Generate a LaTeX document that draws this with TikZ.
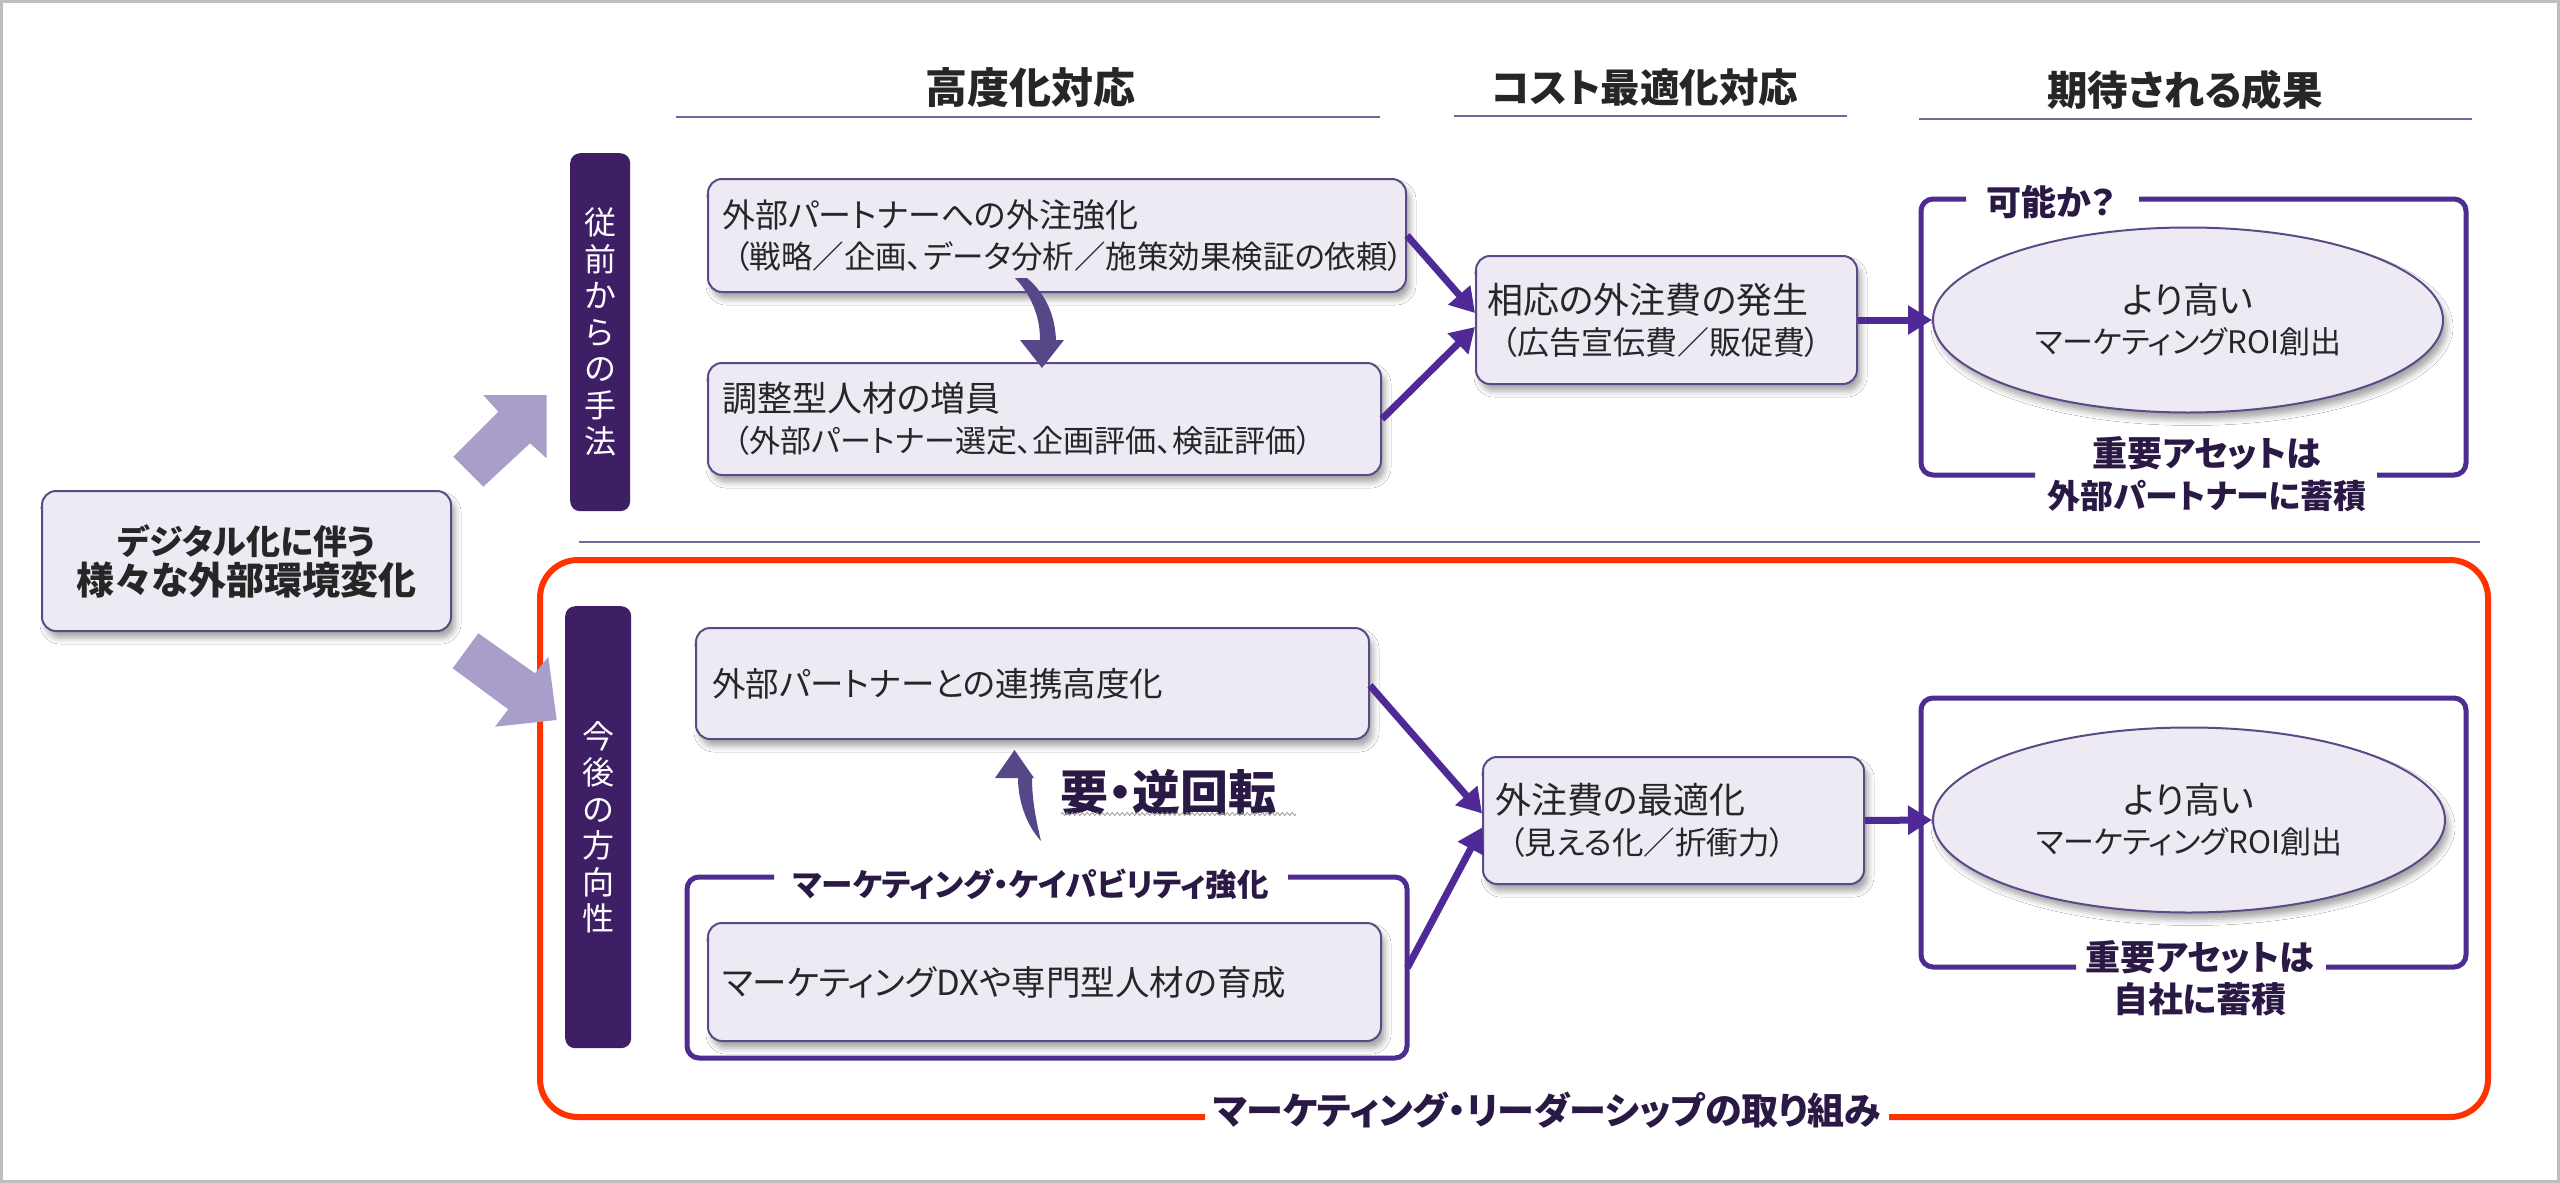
\documentclass[tikz,border=0pt]{standalone}
\usepackage{fontspec}
\setmainfont{Noto Sans CJK JP}[RawFeature=+palt]
\usetikzlibrary{arrows.meta,shapes.geometric,shadows.blur,decorations.pathmorphing}
\definecolor{boxfill}{HTML}{EDEAF4}
\definecolor{boxline}{HTML}{5B4A86}
\definecolor{vbarc}{HTML}{3E1F66}
\definecolor{bigarr}{HTML}{A99DCA}
\definecolor{framec}{HTML}{4E2C90}
\definecolor{arrc}{HTML}{4F2A96}
\definecolor{redc}{HTML}{FF3300}
\definecolor{ulinec}{HTML}{7566A0}
\definecolor{txt}{HTML}{262626}
\definecolor{lbl}{HTML}{2A1945}
\definecolor{curvc}{HTML}{564888}
\newcommand{\fs}[1]{\fontsize{#1}{41}\selectfont}
\begin{document}
\begin{tikzpicture}[x=1pt,y=-1pt,
  shadowed/.style={blur shadow={shadow xshift=4pt, shadow yshift=-7pt, shadow blur radius=6pt, shadow opacity=35}},
  box/.style={draw=boxline, line width=2pt, fill=boxfill, rounded corners=14pt, shadowed},
  tbox/.style={box, anchor=north west, align=left, inner xsep=14pt, inner ysep=0pt, text=txt, font=\fontsize{35}{41}\selectfont},
  vbar/.style={fill=vbarc, rounded corners=10pt, anchor=north west, align=center, inner sep=0pt, text=white, font=\fontsize{32}{36.5}\selectfont},
  hdr/.style={text=txt, font=\bfseries\fontsize{42}{48}\selectfont, inner sep=0pt},
  uline/.style={draw=ulinec, line width=2pt},
  oval/.style={ellipse, draw=boxline, line width=2pt, fill=boxfill, shadowed, align=center, text=txt, inner sep=0pt, font=\fontsize{36}{40}\selectfont},
  framepath/.style={draw=framec, line width=5pt, rounded corners=12pt},
  flbl/.style={text=lbl, align=center, inner sep=0pt, font=\bfseries\fontsize{35}{42}\selectfont},
  conn/.style={draw=arrc, line width=7pt, -{Triangle[length=24pt, width=28pt]}},
  ghost/.style={draw=none, inner sep=0pt, anchor=north west}
]
\useasboundingbox (0,0) rectangle (2560,1183);
\fill[white] (0,0) rectangle (2560,1183);
\draw[draw=black!25, line width=3pt] (1.5,1.5) rectangle (2558.5,1181.5);

% headers
\node[hdr] (h1) at (1030,88) {高度化対応};
\node[hdr, font=\bfseries\fontsize{39.5}{48}\selectfont] (h2) at (1645,88) {コスト最適化対応};
\node[hdr, font=\bfseries\fontsize{40.5}{48}\selectfont] (h3) at (2185,90) {期待される成果};
\draw[uline] (676,117) -- (1380,117);
\draw[uline] (1454,116) -- (1847,116);
\draw[uline] (1919,119) -- (2472,119);

% separator
\draw[uline] (579,541.5) -- (2480,541.5);

% red frame
\draw[draw=redc, line width=6pt, rounded corners=38pt] (1205,1117) -- (540,1117) -- (540,560) -- (2488,560) -- (2488,1117) -- (1889,1117);
\node[text=lbl, inner sep=0pt, font=\bfseries\fontsize{37}{48}\selectfont] (lead) at (1547,1110) {マーケティング・リーダーシップの取り組み};

% left box
\node[box, anchor=north west, minimum width=409pt, minimum height=140pt, align=center, text=txt, font=\bfseries\fontsize{38}{40}\selectfont] (b0) at (41,490) {\fontsize{34}{40}\selectfont デジタル化に伴う\\\fontsize{38}{40}\selectfont 様々な外部環境変化};

% big arrows
\fill[bigarr] (483.3,395) -- (546.7,395) -- (546.7,458.3) -- (530,443.3) -- (483.3,486.7) -- (453.3,456.7) -- (498.3,411.7) -- cycle;
\fill[bigarr] (478.3,633.3) -- (452.7,668.3) -- (508.3,709.3) -- (495,726.7) -- (556.7,720) -- (548.3,656.7) -- (535,673.3) -- cycle;

% vertical bars
\node[vbar, minimum width=60pt, minimum height=358pt] (v1) at (570,153) {従\\前\\か\\ら\\の\\手\\法};
\node[vbar, minimum width=66pt, minimum height=442pt] (v2) at (565,606) {今\\後\\の\\方\\向\\性};

% upper boxes
\node[tbox, text width=670pt, minimum height=113pt] (b1) at (707,178) {\fs{33}外部パートナーへの外注強化\\\fs{31.5}\hspace*{12pt}（戦略／企画、データ分析／施策効果検証の依頼）};
\node[tbox, text width=645pt, minimum height=112pt] (b2) at (707,362) {調整型人材の増員\\\fs{31}\hspace*{12pt}（外部パートナー選定、企画評価、検証評価）};
\node[tbox, inner xsep=11pt, text width=359pt, minimum height=128pt] (b3) at (1475,255) {\fs{36}相応の外注費の発生\\\fs{32}\hspace*{14pt}（広告宣伝費／販促費）};

% upper curved arrow
\fill[curvc] (1015,278) .. controls (1034,298) and (1040,320) .. (1040,340) -- (1020,340) -- (1042,368) -- (1064,340) -- (1056,340) .. controls (1055,318) and (1048,296) .. (1027,278) -- cycle;

% upper result
\node[ghost, minimum width=545pt, minimum height=276pt] (fr1) at (1921,199) {};
\draw[framepath] (1966,199) -- (1921,199) -- (1921,475) -- (2035,475);
\draw[framepath] (2139,199) -- (2466,199) -- (2466,475) -- (2377,475);
\node[flbl] (q1) at (2051,202) {可能か？};
\node[oval, minimum width=510pt, minimum height=185pt] (e1) at (2188,320) {より高い\\\fontsize{31}{40}\selectfont マーケティングROI創出};
\node[flbl] (a1) at (2207,474) {重要アセットは\\\fontsize{33}{42}\selectfont 外部パートナーに蓄積};

\draw[conn] (b1.east) -- ([yshift=7pt]b3.west);
\draw[conn] (b2.east) -- ([yshift=-7pt]b3.west);
\draw[conn] (b3.east) -- (e1.west);

% lower boxes
\node[tbox, inner xsep=16pt, text width=641pt, minimum height=111pt, font=\fontsize{33.5}{41}\selectfont] (b4) at (695,627) {外部パートナーとの連携高度化};
\fill[curvc] (1041,841) .. controls (1026,825) and (1018,800) .. (1018,778) -- (995,778) -- (1014.5,750) -- (1034,778) -- (1032,778) .. controls (1032,800) and (1036,820) .. (1041,841) -- cycle;
\node[text=lbl, inner sep=0pt, font=\bfseries\fontsize{48}{54}\selectfont] (rev) at (1168,792) {要・逆回転};
\draw[draw=black!40, line width=0.8pt, decorate, decoration={zigzag, segment length=5pt, amplitude=1.5pt}] (1061,814) -- (1296,814);

\node[ghost, minimum width=720pt, minimum height=181pt] (capf) at (687,877) {};
\draw[framepath] (774,877) -- (687,877) -- (687,1058) -- (1407,1058) -- (1407,877) -- (1288,877);
\node[flbl, font=\bfseries\fontsize{31.5}{40}\selectfont] (cap) at (1031,884) {マーケティング・ケイパビリティ強化};
\node[tbox, text width=645pt, minimum height=118pt, font=\fontsize{34.5}{41}\selectfont] (b5) at (707,922) {マーケティングDXや専門型人材の育成};

\node[tbox, inner xsep=12pt, text width=357pt, minimum height=127pt] (b6) at (1482,756) {\fs{36}外注費の最適化\\\fs{31.5}\hspace*{14pt}（見える化／折衝力）};

\node[ghost, minimum width=545pt, minimum height=269pt] (fr2) at (1921,698) {};
\draw[framepath] (2076,967) -- (1921,967) -- (1921,698) -- (2466,698) -- (2466,967) -- (2326,967);
\node[oval, minimum width=512pt, minimum height=185pt] (e2) at (2189,820) {より高い\\\fontsize{31}{40}\selectfont マーケティングROI創出};
\node[flbl] (a2) at (2200,978) {重要アセットは\\自社に蓄積};

\draw[conn] ([yshift=-2pt]b4.east) -- ([yshift=7pt]b6.west);
\draw[conn] (capf.east) -- ([yshift=-7pt]b6.west);
\draw[conn] (b6.east) -- (e2.west);
\end{tikzpicture}
\end{document}
